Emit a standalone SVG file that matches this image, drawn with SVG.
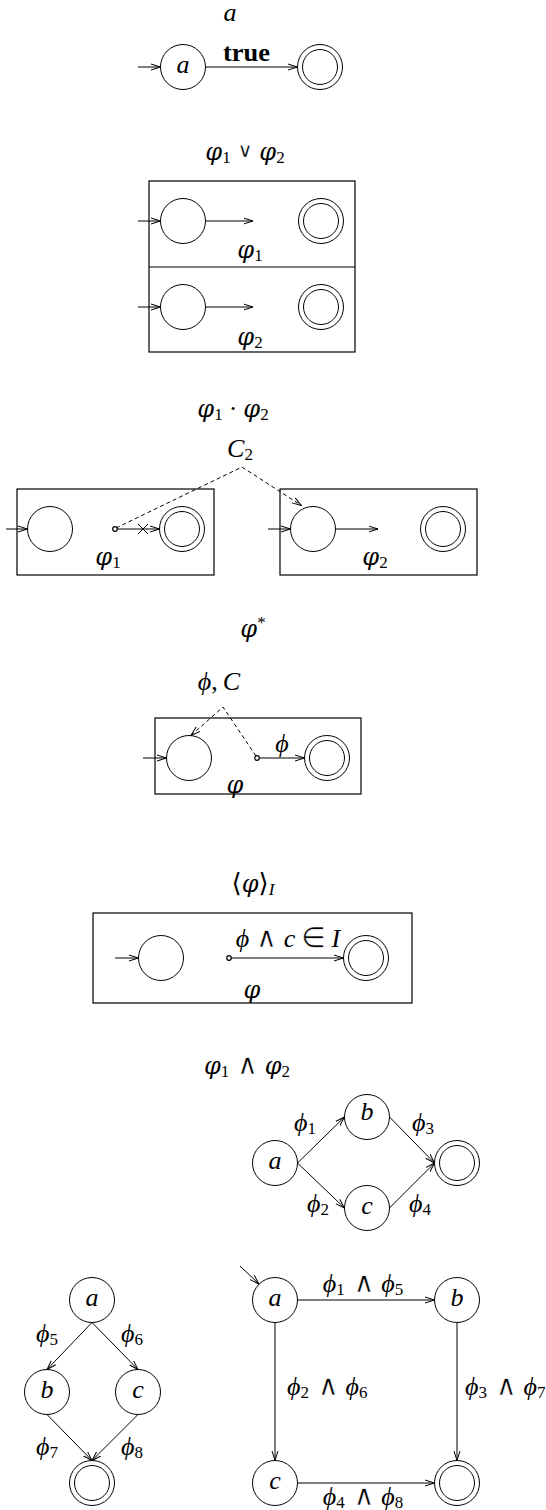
<svg xmlns="http://www.w3.org/2000/svg" width="546" height="1510" viewBox="0 0 546 1510">
<style>
.m{font-family:"Liberation Serif","DejaVu Serif",serif;font-size:26px;font-style:italic;fill:#000}
.ph{font-family:"DejaVu Serif","Liberation Serif",serif;font-size:24px;font-style:italic}
.r{font-style:normal}
.op{font-family:"DejaVu Sans","Liberation Sans",sans-serif;font-style:normal;font-size:28px;stroke:#fff;stroke-width:0.5}
.ov{font-family:"DejaVu Sans","Liberation Sans",sans-serif;font-style:normal;font-size:20px;stroke:#fff;stroke-width:0.3}
.s{font-size:17px;font-style:normal;font-family:"Liberation Serif",serif}
.si{font-size:17px;font-style:italic}
.st{fill:#fff;stroke:#000;stroke-width:1}
.box{fill:none;stroke:#000;stroke-width:1.2}
.ln{fill:none;stroke:#000;stroke-width:1}
.ar{fill:none;stroke:#000;stroke-width:1;marker-end:url(#arr)}
.da{fill:none;stroke:#000;stroke-width:1;stroke-dasharray:4 3}
.dot{fill:#fff;stroke:#000;stroke-width:1.2}
</style>
<defs>
<marker id="arr" markerUnits="userSpaceOnUse" viewBox="0 0 10 8" refX="9.5" refY="4" markerWidth="10" markerHeight="8" orient="auto">
<path d="M0,1 L9.5,4 L0,7" fill="none" stroke="#000" stroke-width="1"/>
</marker>
</defs>
<rect width="546" height="1510" fill="#fff"/>

<!-- Section 1 -->
<text class="m" x="230" y="21" text-anchor="middle">a</text>
<g id="s1-a"><circle class="st" cx="183" cy="67" r="22.5"/><text class="m" x="183" y="73" text-anchor="middle">a</text></g>
<g id="s1-f"><circle class="st" cx="320" cy="67" r="22.5"/><circle class="st" cx="320" cy="67" r="17.5"/></g>
<g id="s1-edges">
<line class="ar" x1="138" y1="67" x2="160.5" y2="67"/>
<line class="ar" x1="205.5" y1="67" x2="297.5" y2="67"/>
<text x="246.5" y="61" text-anchor="middle" font-family="Liberation Serif,serif" font-weight="bold" font-size="25" textLength="47" lengthAdjust="spacingAndGlyphs">true</text>
</g>

<!-- Section 2 -->
<text class="m" x="245" y="160" text-anchor="middle"><tspan class="ph">φ</tspan><tspan class="s" dy="3">1</tspan><tspan class="ov" dy="-6" dx="7">∨</tspan><tspan class="ph" dy="3" dx="7">φ</tspan><tspan class="s" dy="3">2</tspan></text>
<g id="s2-box"><rect class="box" x="149" y="181" width="206" height="171"/><line class="box" x1="149" y1="267" x2="355" y2="267"/></g>
<g id="s2-s1"><circle class="st" cx="183" cy="221" r="22.5"/></g>
<g id="s2-f1"><circle class="st" cx="321" cy="221" r="22.5"/><circle class="st" cx="321" cy="221" r="17.5"/></g>
<g id="s2-s2"><circle class="st" cx="183" cy="307" r="22.5"/></g>
<g id="s2-f2"><circle class="st" cx="321" cy="307" r="22.5"/><circle class="st" cx="321" cy="307" r="17.5"/></g>
<g id="s2-edges">
<line class="ar" x1="138" y1="221" x2="160.5" y2="221"/>
<line class="ar" x1="205.5" y1="221" x2="253" y2="221"/>
<line class="ar" x1="138" y1="307" x2="160.5" y2="307"/>
<line class="ar" x1="205.5" y1="307" x2="253" y2="307"/>
</g>
<text class="m" x="250" y="258" text-anchor="middle"><tspan class="ph">φ</tspan><tspan class="s" dy="3">1</tspan></text>
<text class="m" x="250" y="345" text-anchor="middle"><tspan class="ph">φ</tspan><tspan class="s" dy="3">2</tspan></text>

<!-- Section 3 -->
<text class="m" x="233" y="417" text-anchor="middle"><tspan class="ph">φ</tspan><tspan class="s" dy="3">1</tspan><tspan class="r" dy="-3" dx="6">·</tspan><tspan class="ph" dx="6">φ</tspan><tspan class="s" dy="3">2</tspan></text>
<text class="m" x="240" y="457" text-anchor="middle">C<tspan class="s" dy="3">2</tspan></text>
<g id="s3-box1"><rect class="box" x="17" y="489" width="197" height="86"/></g>
<g id="s3-box2"><rect class="box" x="280" y="489" width="197" height="86"/></g>
<g id="s3-s1"><circle class="st" cx="50" cy="529" r="22.5"/></g>
<g id="s3-f1"><circle class="st" cx="182" cy="529" r="22.5"/><circle class="st" cx="182" cy="529" r="17.5"/></g>
<g id="s3-s2"><circle class="st" cx="313" cy="529" r="22.5"/></g>
<g id="s3-f2"><circle class="st" cx="443" cy="529" r="22.5"/><circle class="st" cx="443" cy="529" r="17.5"/></g>
<g id="s3-edges">
<line class="ar" x1="6" y1="529" x2="27.5" y2="529"/>
<line class="ar" x1="117" y1="529" x2="159.5" y2="529"/>
<path class="ln" d="M138,524 L148,534 M138,534 L148,524"/>
<path class="da" d="M116,528 L242,467 L301.5,505.5" marker-end="url(#arr)"/>
<line class="ar" x1="268" y1="529" x2="290.5" y2="529"/>
<line class="ar" x1="335.5" y1="529" x2="378" y2="529"/>
<circle class="dot" cx="115" cy="529" r="2.3"/>
</g>
<text class="m" x="108" y="565" text-anchor="middle"><tspan class="ph">φ</tspan><tspan class="s" dy="3">1</tspan></text>
<text class="m" x="375" y="565" text-anchor="middle"><tspan class="ph">φ</tspan><tspan class="s" dy="3">2</tspan></text>

<!-- Section 4 -->
<text class="m" x="253" y="637" text-anchor="middle"><tspan class="ph">φ</tspan><tspan class="s" dy="-9">*</tspan></text>
<text class="m" x="219" y="690" text-anchor="middle">ϕ<tspan class="r">,</tspan><tspan dx="5">C</tspan></text>
<g id="s4-box"><rect class="box" x="155" y="718" width="206" height="76"/></g>
<g id="s4-s"><circle class="st" cx="189" cy="758" r="22.5"/></g>
<g id="s4-f"><circle class="st" cx="327" cy="758" r="22.5"/><circle class="st" cx="327" cy="758" r="17.5"/></g>
<g id="s4-edges">
<line class="ar" x1="143" y1="758" x2="166.5" y2="758"/>
<line class="ar" x1="259" y1="758" x2="304.5" y2="758"/>
<path class="da" d="M256,756 L223,707 L191,735.5" marker-end="url(#arr)"/>
<circle class="dot" cx="257" cy="758" r="2.3"/>
</g>
<text class="m" x="282" y="752" text-anchor="middle">ϕ</text>
<text class="m" x="235" y="793" text-anchor="middle"><tspan class="ph">φ</tspan></text>

<!-- Section 5 -->
<text class="m" x="253" y="892" text-anchor="middle"><tspan class="r">⟨</tspan><tspan class="ph">φ</tspan><tspan class="r">⟩</tspan><tspan class="si" dy="3">I</tspan></text>
<g id="s5-box"><rect class="box" x="93" y="913" width="319" height="90"/></g>
<g id="s5-s"><circle class="st" cx="161" cy="958" r="22.5"/></g>
<g id="s5-f"><circle class="st" cx="366" cy="958" r="22.5"/><circle class="st" cx="366" cy="958" r="17.5"/></g>
<g id="s5-edges">
<line class="ar" x1="115" y1="958" x2="138.5" y2="958"/>
<line class="ar" x1="231" y1="958" x2="343.5" y2="958"/>
<circle class="dot" cx="229" cy="958" r="2.3"/>
</g>
<text class="m" x="288" y="947" text-anchor="middle">ϕ<tspan class="op" dx="7">∧</tspan><tspan dx="7">c</tspan><tspan class="op" dx="6">∈</tspan><tspan dx="6">I</tspan></text>
<text class="m" x="252" y="998" text-anchor="middle"><tspan class="ph">φ</tspan></text>

<!-- Section 6 -->
<text class="m" x="247" y="1074" text-anchor="middle"><tspan class="ph">φ</tspan><tspan class="s" dy="3">1</tspan><tspan class="op" dy="-3" dx="8">∧</tspan><tspan class="ph" dx="7">φ</tspan><tspan class="s" dy="3">2</tspan></text>
<g id="s6-a"><circle class="st" cx="275" cy="1163" r="22.5"/><text class="m" x="275" y="1169" text-anchor="middle">a</text></g>
<g id="s6-b"><circle class="st" cx="367" cy="1117" r="22.5"/><text class="m" x="367" y="1120" text-anchor="middle">b</text></g>
<g id="s6-c"><circle class="st" cx="367" cy="1208" r="22.5"/><text class="m" x="367" y="1214" text-anchor="middle">c</text></g>
<g id="s6-f"><circle class="st" cx="457" cy="1163" r="22.5"/><circle class="st" cx="457" cy="1163" r="17.5"/></g>
<g id="s6-edges">
<line class="ar" x1="297.5" y1="1163" x2="344.5" y2="1117"/>
<line class="ar" x1="297.5" y1="1163" x2="344.5" y2="1208"/>
<line class="ar" x1="389.5" y1="1117" x2="434.5" y2="1163"/>
<line class="ar" x1="389.5" y1="1208" x2="434.5" y2="1163"/>
</g>
<text class="m" x="305" y="1131" text-anchor="middle">ϕ<tspan class="s" dy="3">1</tspan></text>
<text class="m" x="423" y="1131" text-anchor="middle">ϕ<tspan class="s" dy="3">3</tspan></text>
<text class="m" x="318" y="1212" text-anchor="middle">ϕ<tspan class="s" dy="3">2</tspan></text>
<text class="m" x="420" y="1212" text-anchor="middle">ϕ<tspan class="s" dy="3">4</tspan></text>

<!-- Section 7 -->
<g id="s7-a"><circle class="st" cx="92" cy="1300" r="22.5"/><text class="m" x="92" y="1306" text-anchor="middle">a</text></g>
<g id="s7-b"><circle class="st" cx="47" cy="1392" r="22.5"/><text class="m" x="47" y="1398" text-anchor="middle">b</text></g>
<g id="s7-c"><circle class="st" cx="138" cy="1392" r="22.5"/><text class="m" x="138" y="1398" text-anchor="middle">c</text></g>
<g id="s7-f"><circle class="st" cx="92" cy="1483" r="22.5"/><circle class="st" cx="92" cy="1483" r="17.5"/></g>
<g id="s7-edges">
<line class="ar" x1="92" y1="1322.5" x2="47" y2="1369.5"/>
<line class="ar" x1="92" y1="1322.5" x2="138" y2="1369.5"/>
<line class="ar" x1="47" y1="1414.5" x2="92" y2="1460.5"/>
<line class="ar" x1="138" y1="1414.5" x2="92" y2="1460.5"/>
</g>
<text class="m" x="47" y="1342" text-anchor="middle">ϕ<tspan class="s" dy="3">5</tspan></text>
<text class="m" x="132" y="1342" text-anchor="middle">ϕ<tspan class="s" dy="3">6</tspan></text>
<text class="m" x="47" y="1455" text-anchor="middle">ϕ<tspan class="s" dy="3">7</tspan></text>
<text class="m" x="132" y="1455" text-anchor="middle">ϕ<tspan class="s" dy="3">8</tspan></text>

<!-- Section 8 -->
<g id="s8-a"><circle class="st" cx="275" cy="1300" r="22.5"/><text class="m" x="275" y="1306" text-anchor="middle">a</text></g>
<g id="s8-b"><circle class="st" cx="457" cy="1300" r="22.5"/><text class="m" x="457" y="1306" text-anchor="middle">b</text></g>
<g id="s8-c"><circle class="st" cx="275" cy="1483" r="22.5"/><text class="m" x="275" y="1489" text-anchor="middle">c</text></g>
<g id="s8-f"><circle class="st" cx="457" cy="1483" r="22.5"/><circle class="st" cx="457" cy="1483" r="17.5"/></g>
<g id="s8-edges">
<line class="ar" x1="240" y1="1266" x2="259" y2="1284"/>
<line class="ar" x1="297.5" y1="1300" x2="434.5" y2="1300"/>
<line class="ar" x1="275" y1="1322.5" x2="275" y2="1460.5"/>
<line class="ar" x1="457" y1="1322.5" x2="457" y2="1460.5"/>
<line class="ar" x1="297.5" y1="1483" x2="434.5" y2="1483"/>
</g>
<text class="m" x="363" y="1292" text-anchor="middle">ϕ<tspan class="s" dy="3">1</tspan><tspan class="op" dy="-3" dx="9">∧</tspan><tspan dx="7">ϕ</tspan><tspan class="s" dy="3">5</tspan></text>
<text class="m" x="287" y="1395">ϕ<tspan class="s" dy="3">2</tspan><tspan class="op" dy="-3" dx="9">∧</tspan><tspan dx="7">ϕ</tspan><tspan class="s" dy="3">6</tspan></text>
<text class="m" x="465" y="1395">ϕ<tspan class="s" dy="3">3</tspan><tspan class="op" dy="-3" dx="9">∧</tspan><tspan dx="7">ϕ</tspan><tspan class="s" dy="3">7</tspan></text>
<text class="m" x="363" y="1505" text-anchor="middle">ϕ<tspan class="s" dy="3">4</tspan><tspan class="op" dy="-3" dx="9">∧</tspan><tspan dx="7">ϕ</tspan><tspan class="s" dy="3">8</tspan></text>
</svg>
